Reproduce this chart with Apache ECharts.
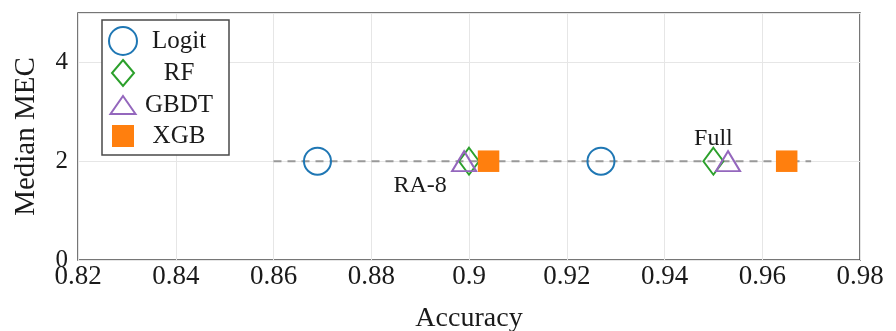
<!DOCTYPE html>
<html><head><meta charset="utf-8">
<script src="https://cdn.jsdelivr.net/npm/echarts@6/dist/echarts.min.js"></script>
<style>html,body{margin:0;padding:0;background:#fff}#c{width:896px;height:331px}</style>
</head><body><div id="c"></div>
<script>
const seriesNames = ['Logit', 'RF', 'GBDT', 'XGB'];
const logitPts = [[0.869, 2], [0.927, 2]];
const rfPts = [[0.900, 2], [0.950, 2]];
const gbdtPts = [[0.899, 2], [0.953, 2]];
const xgbPts = [[0.904, 2], [0.965, 2]];
const refLine = [[0.86, 2], [0.97, 2]];
const annotations = [[0.89, 1.5, 'RA-8'], [0.95, 2.46, 'Full']];
const xTicks = [0.82, 0.84, 0.86, 0.88, 0.9, 0.92, 0.94, 0.96, 0.98];
const yTicks = [0, 2, 4];

const font = 'Liberation Serif';
const chart = echarts.init(document.getElementById('c'));
const styles = {
  Logit: {symbol: 'circle', size: 27, icon: 'circle',
    item: {color: 'rgba(0,0,0,0)', borderColor: '#1f77b4', borderWidth: 2, opacity: 1}},
  RF: {symbol: 'diamond', size: [20, 27], icon: 'path://M0,0 M28,28 M14,1 L25,14 L14,27 L3,14 Z',
    item: {color: 'rgba(0,0,0,0)', borderColor: '#2ca02c', borderWidth: 2, opacity: 1}},
  GBDT: {symbol: 'triangle', size: [24, 20], icon: 'path://M0,0 M28,28 M14,5 L26.5,23 L1.5,23 Z',
    item: {color: 'rgba(0,0,0,0)', borderColor: '#9467bd', borderWidth: 2, opacity: 1}},
  XGB: {symbol: 'rect', size: 21.5, icon: 'path://M0,0 M28,28 M3,3 L25,3 L25,25 L3,25 Z',
    item: {color: '#ff7f0e', borderColor: '#ff7f0e', borderWidth: 0, opacity: 1}}
};
const dataMap = {Logit: logitPts, RF: rfPts, GBDT: gbdtPts, XGB: xgbPts};

chart.setOption({
  animation: false,
  grid: {left: 78, right: 36, top: 13, bottom: 71, outerBoundsMode: 'none', containLabel: false,
    show: true, borderColor: '#4a4a4a', borderWidth: 1.5, backgroundColor: 'rgba(0,0,0,0)'},
  xAxis: {
    type: 'value', min: 0.82, max: 0.98, interval: 0.02,
    name: 'Accuracy', nameLocation: 'middle', nameGap: 45,
    nameTextStyle: {fontFamily: font, fontSize: 28, color: '#1a1a1a'},
    axisLine: {show: false}, axisTick: {show: false},
    axisLabel: {fontFamily: font, fontSize: 27, color: '#1a1a1a', margin: 3,
      formatter: v => String(parseFloat(v.toFixed(2)))},
    splitLine: {show: true, lineStyle: {color: '#e6e6e6', width: 1}}
  },
  yAxis: {
    type: 'value', min: 0, max: 5, interval: 2,
    name: 'Median MEC', nameLocation: 'middle', nameGap: 37,
    nameTextStyle: {fontFamily: font, fontSize: 29, color: '#1a1a1a'},
    axisLine: {show: false}, axisTick: {show: false},
    axisLabel: {fontFamily: font, fontSize: 25, color: '#1a1a1a', margin: 10,
      formatter: v => yTicks.includes(v) ? String(v) : ''},
    splitLine: {show: true, lineStyle: {color: '#e6e6e6', width: 1}}
  },
  legend: {
    orient: 'vertical', left: 102, top: 20,
    padding: [6, 13, 5, 6], itemGap: 2, itemWidth: 28, itemHeight: 28,
    borderColor: '#4a4a4a', borderWidth: 1.5, backgroundColor: '#fff',
    formatter: n => '{t|' + n + '}',
    textStyle: {fontFamily: font, fontSize: 25, color: '#1a1a1a',
      rich: {t: {width: 74, height: 28, lineHeight: 28, align: 'center', fontFamily: font, fontSize: 25, color: '#1a1a1a'}}},
    data: seriesNames.map(n => ({name: n, icon: styles[n].icon, itemStyle: styles[n].item}))
  },
  series: [
    {type: 'line', data: refLine, symbol: 'none', silent: true, z: 1,
     lineStyle: {color: '#999', width: 2, type: [8, 6]}},
    ...seriesNames.map(n => ({
      name: n, type: 'scatter', data: dataMap[n], symbol: styles[n].symbol,
      symbolSize: styles[n].size, itemStyle: styles[n].item, z: 3,
      emphasis: {disabled: true}
    })),
    {type: 'scatter', data: annotations, symbolSize: 0, silent: true, z: 4,
     itemStyle: {opacity: 1}, emphasis: {disabled: true},
     label: {show: true, position: 'inside', formatter: p => p.data[2],
       fontFamily: font, fontSize: 24, color: '#1a1a1a'}}
  ]
});
</script></body></html>
